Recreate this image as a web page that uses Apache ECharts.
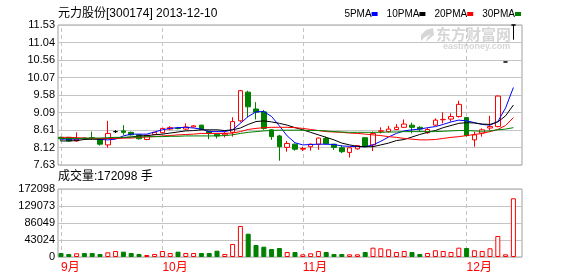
<!DOCTYPE html>
<html><head><meta charset="utf-8">
<script src="https://cdn.jsdelivr.net/npm/echarts@6/dist/echarts.min.js"></script>
<style>html,body{margin:0;padding:0;background:#fff}#c{width:578px;height:276px}</style>
</head><body><div id="c"></div>
<script>
const dates = ['2013-09-10','2013-09-11','2013-09-12','2013-09-13','2013-09-16','2013-09-17','2013-09-18','2013-09-23','2013-09-24','2013-09-25','2013-09-26','2013-09-27','2013-09-30',
'2013-10-08','2013-10-09','2013-10-10','2013-10-11','2013-10-14','2013-10-15','2013-10-16','2013-10-17','2013-10-18','2013-10-21','2013-10-22','2013-10-23','2013-10-24','2013-10-25','2013-10-28','2013-10-29','2013-10-30','2013-10-31',
'2013-11-01','2013-11-04','2013-11-05','2013-11-06','2013-11-07','2013-11-08','2013-11-11','2013-11-12','2013-11-13','2013-11-14','2013-11-15','2013-11-18','2013-11-19','2013-11-20','2013-11-21','2013-11-22','2013-11-25','2013-11-26','2013-11-27','2013-11-28','2013-11-29',
'2013-12-02','2013-12-03','2013-12-04','2013-12-05','2013-12-06','2013-12-09','2013-12-10'];
const open  = [8.40,8.40,8.30,8.38,8.39,8.35,8.19,8.56,8.58,8.54, 8.47,8.34,8.48,8.53,8.63,8.66,8.63,8.69,8.74,8.57, 8.49,8.47,8.54,8.86,9.66,9.19,9.11,8.61,8.44,8.12, 8.21,8.07,8.14,8.21,8.37,8.21,8.11,7.98,8.08,8.39, 8.19,8.57,8.56,8.62,8.68,8.74,8.68,8.53,8.74,8.89, 8.91,8.98,8.95,8.33,8.52,8.66,8.70,10.50,11.53];
const close = [8.36,8.30,8.35,8.36,8.36,8.21,8.51,8.56,8.54,8.47, 8.36,8.46,8.54,8.65,8.67,8.65,8.69,8.72,8.62,8.51, 8.44,8.51,8.84,9.70,9.25,9.10,8.65,8.42,8.14,8.23, 8.07,8.09,8.21,8.38,8.22,8.12,8.00,8.11,8.17,8.14, 8.51,8.58,8.63,8.68,8.77,8.68,8.63,8.62,8.88,8.90, 8.98,9.32,8.45,8.47,8.61,8.70,9.55,10.50,11.53];
const low   = [8.29,8.28,8.28,8.34,8.33,8.17,8.11,8.52,8.47,8.45, 8.34,8.32,8.47,8.52,8.60,8.62,8.60,8.68,8.60,8.35, 8.37,8.40,8.42,8.82,8.96,8.90,8.61,8.33,7.75,8.00, 8.03,8.02,8.03,8.05,8.20,8.05,7.96,7.84,8.06,8.12, 8.02,8.51,8.53,8.60,8.66,8.51,8.55,8.50,8.72,8.79, 8.84,8.95,8.42,8.14,8.42,8.60,8.68,10.50,11.12];
const high  = [8.42,8.41,8.54,8.40,8.56,8.36,8.86,8.60,8.74,8.56, 8.48,8.47,8.55,8.66,8.71,8.69,8.79,8.74,8.75,8.58, 8.50,8.56,8.96,9.72,9.70,9.38,9.16,8.63,8.47,8.30, 8.23,8.14,8.23,8.39,8.42,8.22,8.18,8.12,8.18,8.40, 8.56,8.68,8.72,8.77,8.90,8.81,8.71,8.66,8.93,9.10, 9.07,9.42,8.97,8.56,8.65,9.00,9.57,10.50,11.53];
const volume = [10100,7600,9400,10100,10100,7600,11900,15200,13500,10100, 7600,5100,7600,15200,10100,13500,10100,10100,10100,10100, 16000,7600,32900,78500,59000,30400,26100,20250,22800,12650, 12650,6800,9400,15200,12650,7600,7600,6800,6800,12650, 23600,22000,19400,12650,15200,12650,7600,10100,17000,15200, 12650,23600,22800,17000,15200,22000,53150,6800,148600];
const ma5  = [8.35,8.35,8.35,8.37,8.37,8.34,8.33,8.35,8.44,8.49, 8.49,8.49,8.55,8.61,8.65,8.67,8.68,8.66,8.63,8.56, 8.56,8.56,8.61,8.79,8.98,9.11,9.12,8.98,8.72,8.44, 8.25,8.19,8.20,8.21,8.21,8.20,8.16,8.15,8.14,8.14, 8.19,8.29,8.41,8.51,8.58,8.61,8.63,8.67,8.70,8.76, 8.83,8.88,8.86,8.81,8.76,8.74,8.84,9.22,9.79];
const ma10 = [8.30,8.30,8.31,8.34,8.35,8.35,8.37,8.38,8.39,8.41, 8.44,8.45,8.47,8.49,8.52,8.55,8.58,8.59,8.61,8.61, 8.61,8.59,8.61,8.66,8.76,8.84,8.86,8.83,8.79,8.74, 8.67,8.61,8.54,8.47,8.40,8.33,8.24,8.19,8.15,8.14, 8.14,8.19,8.24,8.31,8.34,8.41,8.48,8.54,8.59,8.67, 8.73,8.79,8.81,8.80,8.77,8.76,8.83,9.00,9.30];
const ma20 = [8.40,8.40,8.39,8.38,8.37,8.37,8.37,8.37,8.38,8.38, 8.40,8.41,8.42,8.44,8.45,8.47,8.48,8.49,8.51,8.51, 8.51,8.51,8.52,8.56,8.62,8.65,8.67,8.68,8.68,8.68, 8.67,8.65,8.62,8.59,8.56,8.55,8.54,8.52,8.51,8.49, 8.47,8.45,8.42,8.40,8.37,8.35,8.33,8.33,8.34,8.37, 8.40,8.42,8.45,8.48,8.51,8.56,8.62,8.73,8.95];
const ma30 = [8.37,8.37,8.37,8.37,8.38,8.38,8.39,8.40,8.40,8.41, 8.41,8.42,8.42,8.42,8.43,8.43,8.44,8.44,8.44,8.44, 8.44,8.45,8.47,8.51,8.54,8.56,8.58,8.59,8.60,8.60, 8.60,8.60,8.59,8.59,8.58,8.56,8.55,8.54,8.54,8.54, 8.54,8.54,8.55,8.55,8.56,8.56,8.56,8.56,8.56,8.57, 8.58,8.59,8.59,8.58,8.57,8.58,8.61,8.63,8.67];
const priceMin = 7.63, priceMax = 11.53, priceStep = 0.4875;
const volMax = 172098, volStep = 43024.5;
const titleText = '元力股份[300174] 2013-12-10';
const volTitle = '成交量:172098 手';
const maNames = ['5PMA','10PMA','20PMA','30PMA'];

const RED = '#ff0000', GREEN = '#008000', BLUE = '#0000ff', BLACK = '#000000';
const FONT = '"Liberation Sans", "Noto Sans CJK SC", sans-serif';
const N = dates.length;
const monthStart = [];
dates.forEach((d, i) => { if (i === 0 || d.slice(5,7) !== dates[i-1].slice(5,7)) monthStart.push(i); });

const dojiStyle = {color: BLACK, color0: BLACK, borderColor: BLACK, borderColor0: BLACK};
const candleData = dates.map((d, i) => {
  const item = {value: [open[i], close[i], low[i], high[i]]};
  if (open[i] === close[i]) item.itemStyle = dojiStyle;
  return item;
});
const volData = volume.map((v, i) => {
  const up = close[i] > open[i] || (close[i] === open[i] && (i === 0 || close[i] >= close[i-1]));
  return {value: v, itemStyle: up ? {color: '#ffffff', borderColor: RED, borderWidth: 1} : {color: GREEN, borderColor: GREEN, borderWidth: 1}};
});

// layout
const band = 7.8;
const dataLeft = 61 - band / 2;
const dataWidth = band * (N + 1);
const mainTop = 25, mainH = 140, volTop = 189, volH = 68;
const frameLeft = 58, frameW = 464;

const monthLines = (z) => ({
  silent: true, symbol: ['none','none'], z: z, animation: false,
  label: {show: false},
  lineStyle: {type: [4,3], color: '#c4c4c4', width: 1},
  data: monthStart.map(i => ({xAxis: dates[i]}))
});

const legendRich = {
  b: {backgroundColor: BLUE, width: 6, height: 4},
  k: {backgroundColor: BLACK, width: 6, height: 4},
  r: {backgroundColor: RED, width: 6, height: 4},
  g: {backgroundColor: GREEN, width: 6, height: 4},
  s: {width: 9, height: 4}
};
const keys = ['b','k','r','g'];
const legendText = maNames.map((n, i) => n + '{' + keys[i] + '|}').join('{s|}');

const chart = echarts.init(document.getElementById('c'), null, {renderer: 'canvas'});
chart.setOption({
  animation: false,
  backgroundColor: '#ffffff',
  title: [
    {text: titleText, left: 58, top: 8, padding: 0, textStyle: {fontSize: 12, fontWeight: 'normal', color: '#000', fontFamily: FONT}},
    {text: legendText, right: 57, top: 9, padding: 0, textStyle: {fontSize: 10, fontWeight: 'normal', color: '#000', fontFamily: FONT, rich: legendRich}},
    {text: volTitle, left: 58, top: 171, padding: 0, textStyle: {fontSize: 12, fontWeight: 'normal', color: '#000', fontFamily: FONT}}
  ],
  graphic: [
    {type: 'polygon', silent: true, z: 0, shape: {points: [[433,28],[426,30],[421,35],[421,41],[425,37],[431,34],[427,38],[426,42],[430,38],[434,35]]}, style: {fill: '#d6d6d6'}},
    {type: 'text', left: 436, top: 27, silent: true, z: 0, style: {text: '东方财富网', fill: '#d6d6d6', font: 'bold 15px "Noto Sans CJK SC"'}},
    {type: 'text', left: 443, top: 42, silent: true, z: 0, style: {text: 'eastmoney.com', fill: '#d6d6d6', font: 'bold 9px "Liberation Sans"'}}
  ],
  grid: [
    {left: dataLeft, top: mainTop, width: dataWidth, height: mainH, show: false},
    {left: dataLeft, top: volTop, width: dataWidth, height: volH, show: false},
    {left: frameLeft, top: mainTop, width: frameW, height: mainH, show: true, borderColor: '#a0a0a0', borderWidth: 1, backgroundColor: 'transparent'},
    {left: frameLeft, top: volTop, width: frameW, height: volH, show: true, borderColor: '#a0a0a0', borderWidth: 1, backgroundColor: 'transparent'}
  ],
  xAxis: [
    {gridIndex: 0, type: 'category', data: dates, max: N, axisLine: {show: false}, axisTick: {show: false}, axisLabel: {show: false}, splitLine: {show: false}},
    {gridIndex: 1, type: 'category', data: dates, max: N, axisLine: {show: false}, axisTick: {show: false}, splitLine: {show: false},
      axisLabel: {show: true, interval: (idx) => monthStart.indexOf(idx) >= 0, formatter: (v) => v ? (parseInt(v.slice(5,7), 10) + '月') : '', color: RED, fontSize: 12, fontFamily: FONT, align: 'left', margin: 5}},
    {gridIndex: 2, type: 'value', min: 0, max: 1, show: false},
    {gridIndex: 3, type: 'value', min: 0, max: 1, show: false}
  ],
  yAxis: [
    {gridIndex: 0, type: 'value', min: priceMin, max: priceMax, show: false, splitLine: {show: false}},
    {gridIndex: 1, type: 'value', min: 0, max: volMax, show: false, splitLine: {show: false}},
    {gridIndex: 2, type: 'value', min: priceMin, max: priceMax, interval: priceStep, axisLine: {show: false}, axisTick: {show: false},
      axisLabel: {formatter: (v) => (Math.round(v * 100 + 1e-6) / 100).toFixed(2), color: '#000', fontSize: 11, fontFamily: FONT, margin: 3, verticalAlign: 'middle', padding: [6,0,0,0]},
      splitLine: {lineStyle: {color: '#c4c4c4', width: 1}}},
    {gridIndex: 3, type: 'value', min: 0, max: volMax, interval: volStep, axisLine: {show: false}, axisTick: {show: false},
      axisLabel: {formatter: (v) => String(Math.floor(v)), color: '#000', fontSize: 11, fontFamily: FONT, margin: 3, verticalAlign: 'middle', padding: [6,0,0,0]},
      splitLine: {lineStyle: {color: '#c4c4c4', width: 1}}}
  ],
  series: [
    {type: 'candlestick', xAxisIndex: 0, yAxisIndex: 0, data: candleData, barWidth: 5,
      itemStyle: {color: '#ffffff', color0: GREEN, borderColor: RED, borderColor0: GREEN, borderWidth: 1},
      markLine: monthLines(1)},
    {type: 'line', name: maNames[0], xAxisIndex: 0, yAxisIndex: 0, data: ma5, showSymbol: false, symbol: 'none', lineStyle: {color: BLUE, width: 1}},
    {type: 'line', name: maNames[1], xAxisIndex: 0, yAxisIndex: 0, data: ma10, showSymbol: false, symbol: 'none', lineStyle: {color: BLACK, width: 1}},
    {type: 'line', name: maNames[2], xAxisIndex: 0, yAxisIndex: 0, data: ma20, showSymbol: false, symbol: 'none', lineStyle: {color: RED, width: 1}},
    {type: 'line', name: maNames[3], xAxisIndex: 0, yAxisIndex: 0, data: ma30, showSymbol: false, symbol: 'none', lineStyle: {color: GREEN, width: 1}},
    {type: 'bar', xAxisIndex: 1, yAxisIndex: 1, data: volData, barWidth: 5, markLine: monthLines(1)}
  ]
});
</script>
</body></html>
